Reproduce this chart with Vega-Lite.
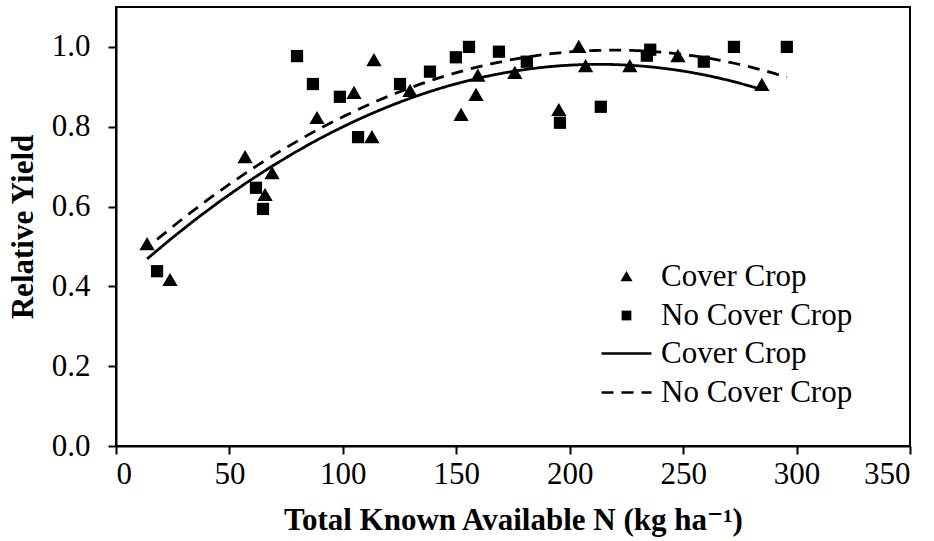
{
  "$schema": "https://vega.github.io/schema/vega-lite/v6.json",
  "width": 794,
  "height": 439,
  "autosize": {"type": "none"},
  "padding": {"left": 116, "top": 7, "right": 24, "bottom": 95},
  "background": "white",
  "config": {
    "view": {"stroke": "black", "strokeWidth": 2},
    "font": "Liberation Serif, Times New Roman, DejaVu Serif, serif",
    "axis": {
      "grid": false,
      "domainColor": "black",
      "domainWidth": 2,
      "tickColor": "black",
      "tickWidth": 2,
      "tickSize": 8,
      "labelFont": "Liberation Serif, Times New Roman, DejaVu Serif, serif",
      "labelFontSize": 31,
      "labelColor": "black",
      "titleFont": "Liberation Serif, Times New Roman, DejaVu Serif, serif",
      "titleFontSize": 31,
      "titleFontWeight": "bold",
      "titleColor": "black"
    },
    "legend": {
      "labelFont": "Liberation Serif, Times New Roman, DejaVu Serif, serif",
      "labelFontSize": 31,
      "labelColor": "black",
      "labelLimit": 400,
      "padding": 0,
      "rowPadding": 7
    }
  },
  "data": {
    "values": [
      {"N": 13.7, "RY": 0.506, "Treatment": "Cover Crop"},
      {"N": 23.8, "RY": 0.416, "Treatment": "Cover Crop"},
      {"N": 56.9, "RY": 0.724, "Treatment": "Cover Crop"},
      {"N": 65.7, "RY": 0.629, "Treatment": "Cover Crop"},
      {"N": 68.8, "RY": 0.684, "Treatment": "Cover Crop"},
      {"N": 88.6, "RY": 0.822, "Treatment": "Cover Crop"},
      {"N": 104.9, "RY": 0.885, "Treatment": "Cover Crop"},
      {"N": 112.8, "RY": 0.774, "Treatment": "Cover Crop"},
      {"N": 113.7, "RY": 0.967, "Treatment": "Cover Crop"},
      {"N": 129.6, "RY": 0.89, "Treatment": "Cover Crop"},
      {"N": 152.1, "RY": 0.83, "Treatment": "Cover Crop"},
      {"N": 158.7, "RY": 0.88, "Treatment": "Cover Crop"},
      {"N": 159.5, "RY": 0.928, "Treatment": "Cover Crop"},
      {"N": 175.8, "RY": 0.935, "Treatment": "Cover Crop"},
      {"N": 195.2, "RY": 0.842, "Treatment": "Cover Crop"},
      {"N": 204.0, "RY": 1.0, "Treatment": "Cover Crop"},
      {"N": 207.0, "RY": 0.952, "Treatment": "Cover Crop"},
      {"N": 226.5, "RY": 0.952, "Treatment": "Cover Crop"},
      {"N": 247.7, "RY": 0.977, "Treatment": "Cover Crop"},
      {"N": 284.7, "RY": 0.905, "Treatment": "Cover Crop"},
      {"N": 18.1, "RY": 0.438, "Treatment": "No Cover Crop"},
      {"N": 61.7, "RY": 0.647, "Treatment": "No Cover Crop"},
      {"N": 64.8, "RY": 0.594, "Treatment": "No Cover Crop"},
      {"N": 79.8, "RY": 0.977, "Treatment": "No Cover Crop"},
      {"N": 86.8, "RY": 0.907, "Treatment": "No Cover Crop"},
      {"N": 98.7, "RY": 0.875, "Treatment": "No Cover Crop"},
      {"N": 106.7, "RY": 0.774, "Treatment": "No Cover Crop"},
      {"N": 125.2, "RY": 0.907, "Treatment": "No Cover Crop"},
      {"N": 138.4, "RY": 0.938, "Treatment": "No Cover Crop"},
      {"N": 149.8, "RY": 0.974, "Treatment": "No Cover Crop"},
      {"N": 155.6, "RY": 1.0, "Treatment": "No Cover Crop"},
      {"N": 168.8, "RY": 0.988, "Treatment": "No Cover Crop"},
      {"N": 181.1, "RY": 0.963, "Treatment": "No Cover Crop"},
      {"N": 195.7, "RY": 0.81, "Treatment": "No Cover Crop"},
      {"N": 213.7, "RY": 0.85, "Treatment": "No Cover Crop"},
      {"N": 234.0, "RY": 0.978, "Treatment": "No Cover Crop"},
      {"N": 235.5, "RY": 0.993, "Treatment": "No Cover Crop"},
      {"N": 259.1, "RY": 0.963, "Treatment": "No Cover Crop"},
      {"N": 272.4, "RY": 1.0, "Treatment": "No Cover Crop"},
      {"N": 295.7, "RY": 1.0, "Treatment": "No Cover Crop"}
    ]
  },
  "encoding": {
    "x": {
      "field": "N",
      "type": "quantitative",
      "scale": {"domain": [0, 350], "nice": false, "zero": false},
      "axis": {
        "values": [0, 50, 100, 150, 200, 250, 300, 350],
        "title": "Total Known Available N (kg ha⁻¹)",
        "labelPadding": 5,
        "titlePadding": 16
      }
    },
    "y": {
      "field": "RY",
      "type": "quantitative",
      "scale": {"domain": [0, 1.1], "nice": false, "zero": false},
      "axis": {
        "values": [0, 0.2, 0.4, 0.6, 0.8, 1.0],
        "format": ".1f",
        "title": "Relative Yield",
        "labelPadding": 18,
        "titlePadding": 12
      }
    }
  },
  "layer": [
    {
      "transform": [
        {"regression": "RY", "on": "N", "groupby": ["Treatment"], "method": "poly", "order": 2}
      ],
      "mark": {"type": "line", "color": "black", "strokeWidth": 2.8},
      "encoding": {
        "strokeDash": {
          "field": "Treatment",
          "type": "nominal",
          "scale": {"range": [[1, 0], [12, 8]]},
          "legend": {
            "title": null,
            "orient": "none",
            "legendX": 495,
            "legendY": 331,
            "symbolType": "M-5,0H5",
            "symbolSize": 100,
            "symbolStrokeColor": "black",
            "symbolStrokeWidth": 2.5,
            "symbolFillColor": "transparent",
            "labelOffset": 19
          }
        }
      }
    },
    {
      "mark": {"type": "point", "filled": true, "color": "black", "opacity": 1, "size": 150},
      "encoding": {
        "shape": {
          "field": "Treatment",
          "type": "nominal",
          "scale": {"range": ["M0,-1.15L1.25,1.0L-1.25,1.0Z", "square"]},
          "legend": {
            "title": null,
            "orient": "none",
            "legendX": 495,
            "legendY": 254,
            "symbolSize": 95,
            "symbolFillColor": "black",
            "symbolStrokeWidth": 0,
            "symbolOpacity": 1,
            "labelOffset": 19
          }
        }
      }
    }
  ]
}
